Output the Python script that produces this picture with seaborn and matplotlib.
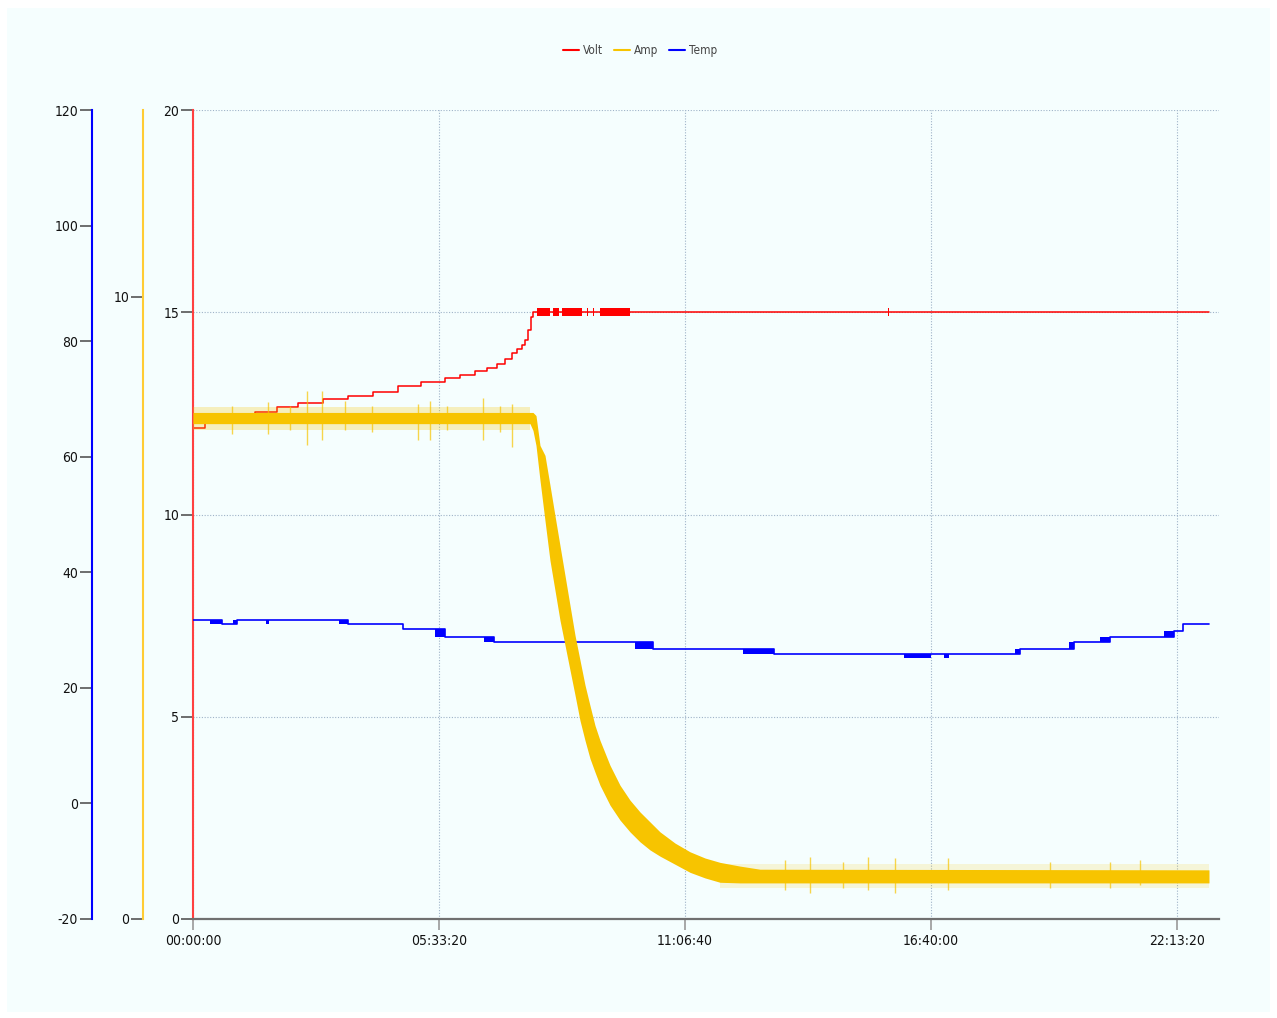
import numpy as np
import pandas as pd
import seaborn as sns
import matplotlib
matplotlib.use("Agg")
import matplotlib.pyplot as plt
import matplotlib.ticker as mticker
from matplotlib.patches import Rectangle
from matplotlib import font_manager

# ---- data (time in seconds) ----
volt_t = [0, 976, 3577, 5041, 6829, 8537, 10569, 12602, 14634, 16667, 18536, 20488,
          21707, 22927, 23902, 24715, 25366, 25935, 26341, 26748, 26992, 27236, 27479,
          27642, 82600]
volt_v = [12.15, 12.41, 12.48, 12.53, 12.66, 12.76, 12.86, 12.93, 13.03, 13.18, 13.28,
          13.37, 13.45, 13.55, 13.62, 13.72, 13.84, 13.99, 14.09, 14.19, 14.31, 14.56,
          14.88, 15.0, 15.0]
# spans where the voltage flickers between 14.9 and 15.1
volt_flick_start = [27967, 29268, 30000, 32032, 32520, 33089, 56500]
volt_flick_end = [29024, 29756, 31626, 32114, 32601, 35528, 56560]

amp_t = [0, 27398, 27642, 27886, 28211, 28618, 29024, 29431, 29837, 30244, 30650,
         31057, 31463, 31870, 32276, 32683, 33089, 33902, 34715, 35528, 36341, 37154,
         37967, 39187, 40406, 41626, 42845, 44471, 46097, 82600]
amp_hi = [8.14, 8.14, 8.14, 8.09, 7.61, 7.45, 6.97, 6.48, 6.00, 5.52, 5.04, 4.56,
          4.16, 3.76, 3.43, 3.11, 2.87, 2.47, 2.15, 1.91, 1.72, 1.56, 1.40, 1.22,
          1.08, 0.98, 0.91, 0.85, 0.80, 0.79]
amp_lo = [7.96, 7.96, 7.85, 7.61, 7.05, 6.40, 5.76, 5.28, 4.80, 4.40, 4.00, 3.60,
          3.19, 2.87, 2.58, 2.36, 2.15, 1.83, 1.59, 1.40, 1.24, 1.11, 1.01, 0.88,
          0.75, 0.66, 0.59, 0.58, 0.58, 0.58]
# sparse noise spikes on the current
spike_t = [3171, 6098, 7886, 9268, 10488, 12358, 14553, 18293, 19268, 20650, 23577,
           24959, 25935, 48130, 50162, 52845, 54878, 57073, 61382, 69674, 74552, 76991]
spike_hi = [8.25, 8.30, 8.25, 8.49, 8.49, 8.33, 8.25, 8.28, 8.33, 8.25, 8.38, 8.25,
            8.28, 0.95, 1.00, 0.91, 1.00, 0.98, 0.98, 0.91, 0.91, 0.95]
spike_lo = [7.80, 7.80, 7.85, 7.61, 7.69, 7.85, 7.82, 7.69, 7.69, 7.85, 7.69, 7.82,
            7.58, 0.47, 0.42, 0.50, 0.47, 0.42, 0.47, 0.50, 0.50, 0.55]

temp_t = [0, 1382, 2358, 3577, 12602, 17073, 20488, 24471, 37398, 47235, 67235,
          71626, 74553, 79756, 80487, 82600]
temp_v = [31.8, 31.8, 31.0, 31.8, 31.0, 30.1, 28.8, 27.9, 26.8, 25.8, 26.8, 27.9,
          28.8, 29.8, 31.0, 31.0]
# spans where the temperature toggles between two readings
temp_flick_start = [1382, 3252, 5935, 11870, 19675, 23658, 35935, 44715, 57805, 61056,
                    66829, 71219, 73740, 78943]
temp_flick_end = [2358, 3577, 6179, 12602, 20488, 24471, 37398, 47235, 60000, 61463,
                  67235, 71626, 74553, 79756]
temp_flick_lo = [31.0, 31.0, 31.0, 31.0, 28.8, 27.9, 26.8, 25.8, 25.1, 25.1, 25.8,
                 26.8, 27.9, 28.8]
temp_flick_hi = [31.8, 31.8, 31.8, 31.8, 30.1, 28.8, 27.9, 26.8, 25.8, 25.8, 26.8,
                 27.9, 28.8, 29.8]

x_ticks = [0, 20000, 40000, 60000, 80000]
volt_ticks = [0, 5, 10, 15, 20]
amp_ticks = [0, 10]
temp_ticks = [-20, 0, 20, 40, 60, 80, 100, 120]

RED = "#ff0000"
AMBER = "#f7c400"
BLUE = "#0000ff"

sns.set_theme(style="white")
names = {f.name for f in font_manager.fontManager.ttflist}
narrow = [n for n in ["Liberation Sans Narrow", "DejaVu Sans Condensed"] if n in names]
plt.rcParams["font.family"] = narrow + ["DejaVu Sans"]
plt.rcParams["font.stretch"] = "condensed"
plt.rcParams["axes.unicode_minus"] = False
FS = 10.5 if narrow else 10

W, H = 1277, 1018
fig = plt.figure(figsize=(W / 100, H / 100), dpi=100, facecolor="white")
fig.patches.append(Rectangle((7 / W, 1 - 1012 / H), 1263 / W, 1004 / H,
                             transform=fig.transFigure, facecolor="#f5fefe",
                             edgecolor="none", zorder=-10))

ax = fig.add_axes([193 / W, 1 - 919 / H, (1219 - 193) / W, (919 - 110) / H])
ax.set_facecolor("none")
ax_t = ax.twinx()
ax_a = ax.twinx()

# Volt
volt_df = pd.DataFrame({"t": volt_t, "v": volt_v})
sns.lineplot(data=volt_df, x="t", y="v", ax=ax, color=RED, lw=1.1,
             drawstyle="steps-post", estimator=None, sort=False, legend=False)
for s, e in zip(volt_flick_start, volt_flick_end):
    ax.fill_between([s, e], 14.9, 15.1, color=RED, lw=0)

# Temp
temp_df = pd.DataFrame({"t": temp_t, "v": temp_v})
sns.lineplot(data=temp_df, x="t", y="v", ax=ax_t, color=BLUE, lw=1.2,
             drawstyle="steps-post", estimator=None, sort=False, legend=False)
for s, e, lo, hi in zip(temp_flick_start, temp_flick_end, temp_flick_lo, temp_flick_hi):
    ax_t.fill_between([s, e], lo, hi, color=BLUE, lw=0)

# Amp
ax_a.fill_between(amp_t, amp_lo, amp_hi, color=AMBER, lw=0)
ax_a.fill_between([0, 27398], 7.85, 8.22, color=AMBER, alpha=0.25, lw=0)
ax_a.fill_between([42845, 82600], 0.50, 0.88, color=AMBER, alpha=0.15, lw=0)
ax_a.vlines(spike_t, spike_lo, spike_hi, color=AMBER, lw=1, alpha=0.7)

# axes ranges
ax.set_xlim(0, 83414)
ax.set_ylim(0, 20)
ax_a.set_ylim(0, 13)
ax_t.set_ylim(-20, 120)

def hms(x, pos):
    x = int(round(x))
    return f"{x // 3600:02d}:{(x % 3600) // 60:02d}:{x % 60:02d}"

ax.set_xticks(x_ticks)
ax.xaxis.set_major_formatter(mticker.FuncFormatter(hms))
ax.set_yticks(volt_ticks)
ax_a.set_yticks(amp_ticks)
ax_t.set_yticks(temp_ticks)
ax.set_xlabel("")
ax.set_ylabel("")
ax_t.set_ylabel("")
ax_a.set_ylabel("")

ax.grid(True, color="#9fb3c8", linestyle=(0, (1, 1.5)), lw=0.8)
ax.set_axisbelow(True)

for a in (ax, ax_t, ax_a):
    a.spines["top"].set_visible(False)
    a.spines["right"].set_visible(False)
for a in (ax_t, ax_a):
    a.spines["bottom"].set_visible(False)
    a.spines["left"].set_visible(True)
    a.yaxis.set_ticks_position("left")
    a.yaxis.set_label_position("left")

ax.spines["left"].set_color("#ff4040")
ax.spines["left"].set_linewidth(1.5)
ax.spines["bottom"].set_color("#707070")
ax.spines["bottom"].set_linewidth(1.6)
ax_a.spines["left"].set_position(("outward", 36))
ax_a.spines["left"].set_color("#ffcc33")
ax_a.spines["left"].set_linewidth(1.5)
ax_t.spines["left"].set_position(("outward", 72.7))
ax_t.spines["left"].set_color(BLUE)
ax_t.spines["left"].set_linewidth(1.5)

for a in (ax, ax_t, ax_a):
    a.tick_params(axis="y", direction="out", length=9, width=1.2, color="#555555",
                  labelsize=FS, labelcolor="#111111", pad=1, left=True)
ax.tick_params(axis="x", direction="out", length=8, width=1.2, color="#999999",
               labelsize=FS, labelcolor="#111111", pad=3, bottom=True)

# legend
handles = [plt.Line2D([], [], color=RED, lw=1.5),
           plt.Line2D([], [], color=AMBER, lw=1.5),
           plt.Line2D([], [], color=BLUE, lw=1.5)]
fig.legend(handles, ["Volt", "Amp", "Temp"], loc="center", ncol=3,
           bbox_to_anchor=(640 / W, 1 - 51 / H), frameon=False, fontsize=FS - 1.5,
           handlelength=1.4, handletextpad=0.3, columnspacing=0.9,
           labelcolor="#444444")

fig.savefig("out.png", dpi=100, facecolor="white")
